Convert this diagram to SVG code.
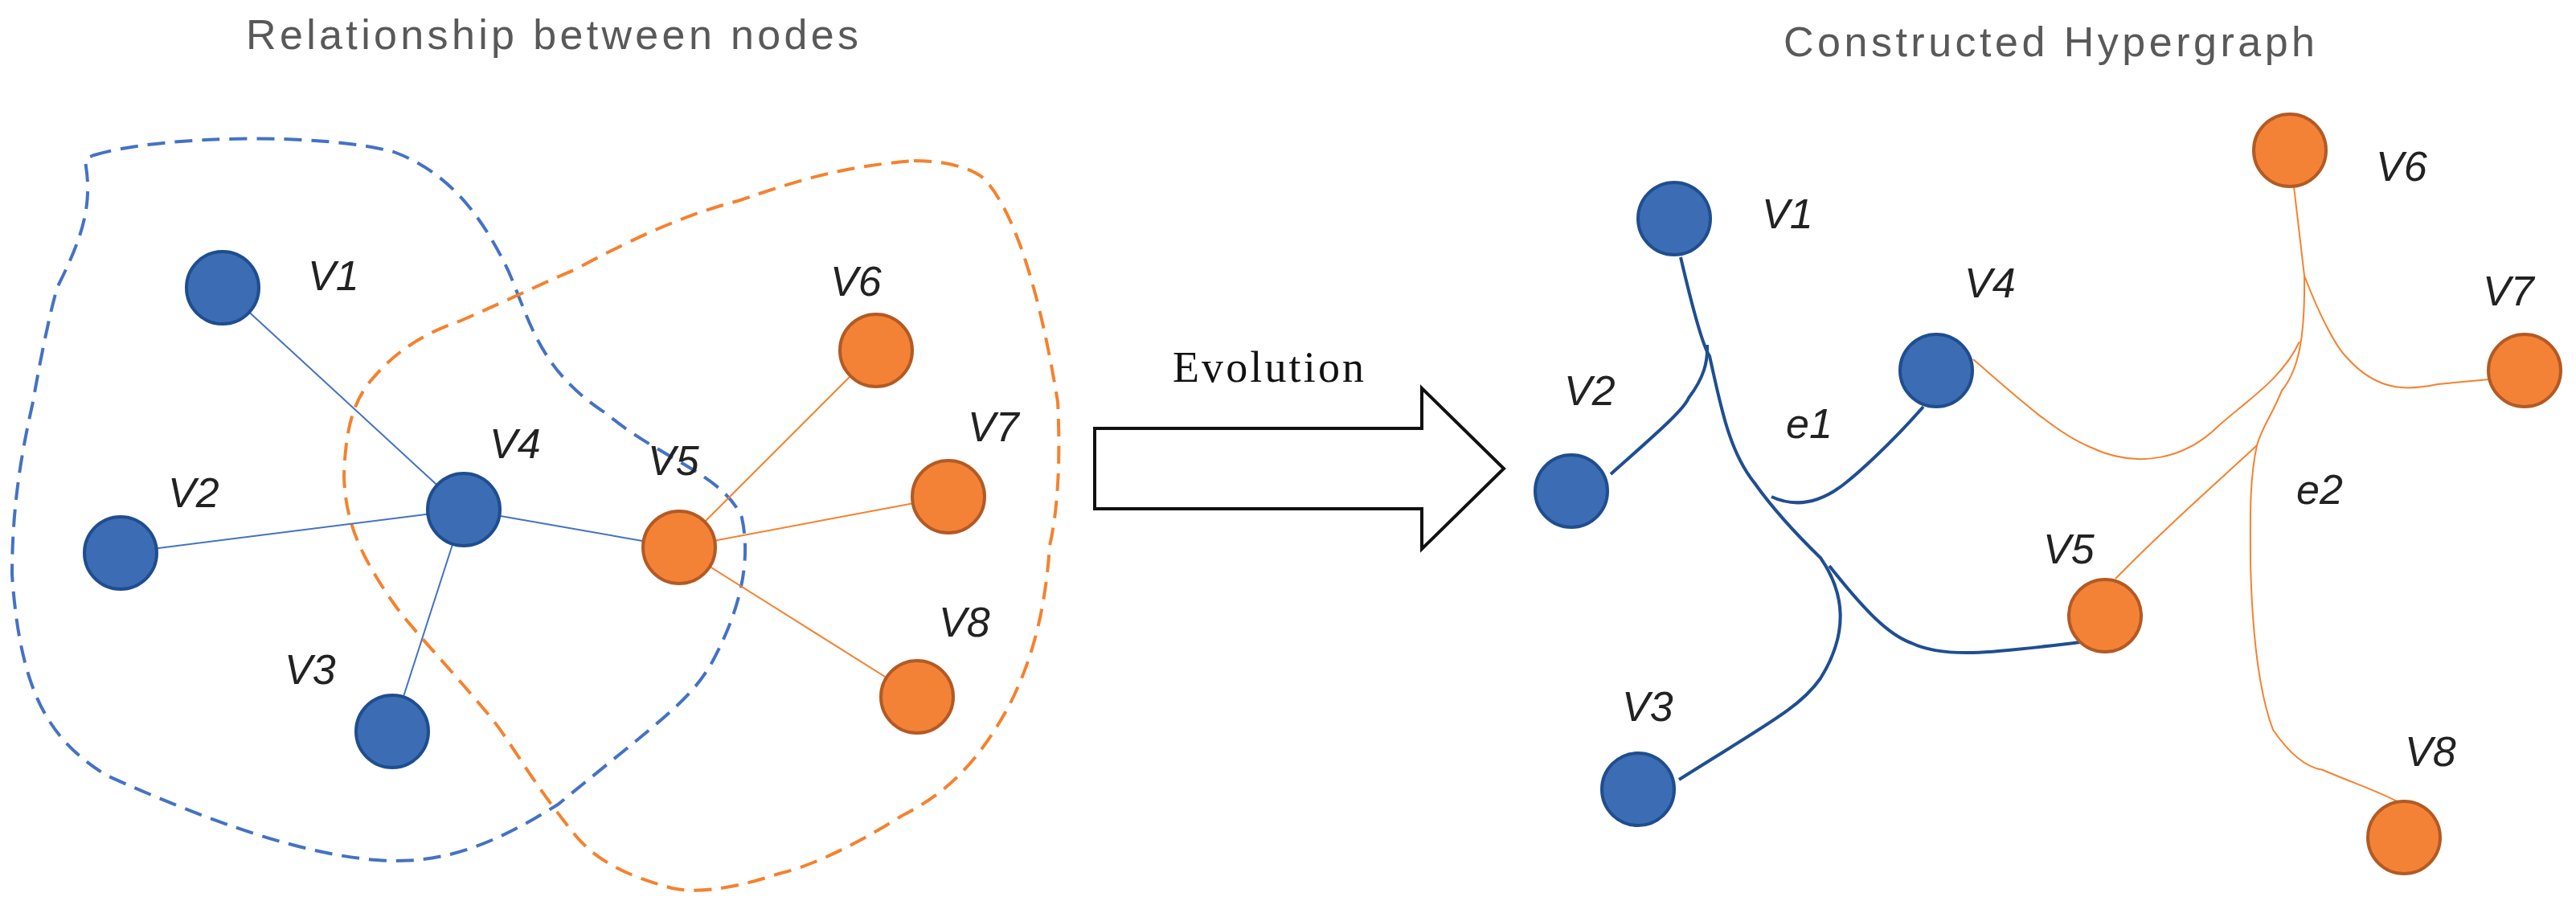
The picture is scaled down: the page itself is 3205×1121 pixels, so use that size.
<svg xmlns="http://www.w3.org/2000/svg" width="3205" height="1121" viewBox="0 0 3205 1121">
<style>
.b{fill:#3c6db4;stroke:#1f4e8f;stroke-width:4}
.o{fill:#f48236;stroke:#b35a24;stroke-width:4}
.lab{font-family:"Liberation Sans",sans-serif;font-style:italic;font-size:52px;fill:#222}
.title{font-family:"Liberation Sans",sans-serif;font-size:52px;fill:#595959}
.eb{stroke:#4472c4;stroke-width:2;fill:none}
.eo{stroke:#f4822f;stroke-width:2;fill:none}
.hb{stroke:#1f4e91;stroke-width:4;fill:none}
</style>
<rect width="3205" height="1121" fill="#fff"/>
<text class="title" x="306" y="61" textLength="762">Relationship between nodes</text>
<text class="title" x="2219" y="70" textLength="661">Constructed Hypergraph</text>
<g id="blobs" fill="none" stroke-width="4" stroke-dasharray="22,12">
<path stroke="#4472c4" d="M117,193 C200,168 400,165 490,189 C560,215 600,270 632,336 C660,400 670,460 755,515 C820,570 900,590 923,644 C935,700 920,760 887,822 C860,870 830,890 694,1001 C600,1060 540,1075 469,1070 C400,1065 300,1040 133,965 C60,920 25,860 15,715 C15,620 30,550 41,500 C55,420 65,380 71,358 C100,300 115,260 107,207 C105,195 110,196 117,193 Z"/>
<path stroke="#f4822f" d="M1137,200 C1180,200 1210,210 1224,222 C1270,270 1300,400 1316,500 C1320,580 1315,640 1306,679 C1300,770 1280,830 1255,879 C1210,960 1170,990 1122,1015 C1050,1060 1000,1080 969,1087 C900,1110 860,1110 836,1105 C780,1090 740,1070 714,1037 C660,970 640,930 612,894 C550,820 510,780 490,751 C440,680 430,640 428,593 C430,520 445,490 469,465 C500,430 540,410 571,400 C640,370 680,350 714,336 C800,290 860,265 918,250 C1000,222 1050,207 1137,200 Z"/>
</g>
<g id="connectors">
<path class="eb" d="M277,358 L577,634 M150,688 L577,634 M488,910 L577,634 M577,634 L845,681"/>
<path class="eo" d="M845,681 L1090,436 M845,681 L1180,618 M845,681 L1141,867"/>
<path class="hb" d="M2091,320 C2105,380 2118,430 2127,443 C2140,500 2150,560 2183,601 C2200,625 2230,660 2265,694 C2290,730 2305,780 2265,844 C2240,880 2200,900 2089,970"/>
<path class="hb" d="M2004,590 C2060,540 2095,510 2101,495 C2120,470 2125,450 2124,429"/>
<path class="hb" d="M2393,506 C2350,555 2310,590 2296,601 C2260,630 2230,630 2204,618"/>
<path class="hb" d="M2276,704 C2320,760 2350,790 2378,800 C2420,820 2480,812 2588,799"/>
<path class="eo" d="M2854,232 L2867,343 C2868,420 2860,460 2839,486 C2825,520 2815,530 2808,554 C2798,600 2800,650 2800,700 C2802,787 2810,860 2828,908 C2850,940 2870,955 2890,958 C2930,975 2960,985 2982,997"/>
<path class="eo" d="M2867,343 C2885,390 2905,430 2920,445 C2960,490 3000,485 3033,478 L3097,472"/>
<path class="eo" d="M2455,447 C2510,495 2560,540 2600,556 C2660,585 2720,570 2760,530 C2800,495 2840,470 2861,425"/>
<path class="eo" d="M2632,720 C2700,650 2770,590 2808,554"/>
</g>
<g id="arrow"><path d="M1362,533 L1769,533 L1769,483 L1871,583 L1769,683 L1769,633 L1362,633 Z" fill="#fff" stroke="#111" stroke-width="4"/>
<text x="1459" y="475" font-family="Liberation Serif,serif" font-size="54" fill="#111" textLength="238">Evolution</text></g>
<g id="L-V1"><circle class="b" cx="277" cy="358" r="45"/><text class="lab" x="383" y="361">V1</text></g>
<g id="L-V2"><circle class="b" cx="150" cy="688" r="45"/><text class="lab" x="209" y="631">V2</text></g>
<g id="L-V3"><circle class="b" cx="488" cy="910" r="45"/><text class="lab" x="354" y="851">V3</text></g>
<g id="L-V4"><circle class="b" cx="577" cy="634" r="45"/><text class="lab" x="609" y="570">V4</text></g>
<g id="L-V5"><circle class="o" cx="845" cy="681" r="45"/><text class="lab" x="806" y="591">V5</text></g>
<g id="L-V6"><circle class="o" cx="1090" cy="436" r="45"/><text class="lab" x="1033" y="368">V6</text></g>
<g id="L-V7"><circle class="o" cx="1180" cy="618" r="45"/><text class="lab" x="1204" y="549">V7</text></g>
<g id="L-V8"><circle class="o" cx="1141" cy="867" r="45"/><text class="lab" x="1168" y="792">V8</text></g>
<g id="R-V1"><circle class="b" cx="2083" cy="272" r="45"/><text class="lab" x="2192" y="284">V1</text></g>
<g id="R-V2"><circle class="b" cx="1955" cy="611" r="45"/><text class="lab" x="1946" y="504">V2</text></g>
<g id="R-V3"><circle class="b" cx="2038" cy="982" r="45"/><text class="lab" x="2018" y="897">V3</text></g>
<g id="R-V4"><circle class="b" cx="2409" cy="461" r="45"/><text class="lab" x="2444" y="370">V4</text></g>
<g id="R-V5"><circle class="o" cx="2619" cy="766" r="45"/><text class="lab" x="2542" y="701">V5</text></g>
<g id="R-V6"><circle class="o" cx="2849" cy="187" r="45"/><text class="lab" x="2956" y="225">V6</text></g>
<g id="R-V7"><circle class="o" cx="3141" cy="461" r="45"/><text class="lab" x="3089" y="380">V7</text></g>
<g id="R-V8"><circle class="o" cx="2991" cy="1042" r="45"/><text class="lab" x="2992" y="953">V8</text></g>
<g id="edge-labels"><text class="lab" x="2222" y="545">e1</text><text class="lab" x="2857" y="627">e2</text></g>
</svg>
